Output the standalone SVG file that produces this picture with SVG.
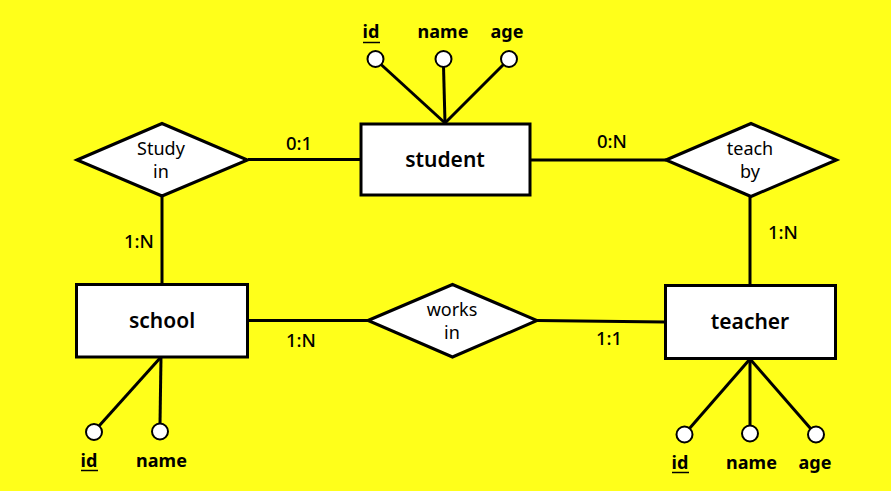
<svg xmlns="http://www.w3.org/2000/svg" width="891" height="491" viewBox="0 0 891 491">
<style>
.ent{fill:#fff;stroke:#000;stroke-width:3}
.rel{fill:#fff;stroke:#000;stroke-width:3}
.attr{fill:#fff;stroke:#000;stroke-width:2}
.ln{stroke:#000;stroke-width:3;fill:none}
text{font-family:"Noto Sans","Open Sans",sans-serif;fill:#000;text-anchor:middle}
.et{font-size:21px;font-weight:600}
.rt{font-size:18px;font-weight:400}
.at{font-size:18px;font-weight:700}
.ct{font-size:18.5px;font-weight:500}
.ul{stroke:#000;stroke-width:1.5}
</style>
<rect width="891" height="491" fill="#ffff1a"/>
<g id="connectors">
<line class="ln" x1="248" y1="159.5" x2="361" y2="159.5"/>
<line class="ln" x1="530" y1="160" x2="666" y2="160"/>
<line class="ln" x1="162" y1="196" x2="162" y2="284"/>
<line class="ln" x1="750" y1="197" x2="750" y2="285"/>
<line class="ln" x1="247" y1="320.5" x2="368" y2="320.5"/>
<line class="ln" x1="537" y1="320.5" x2="665" y2="322"/>
<line class="ln" x1="445" y1="123" x2="380.5" y2="64"/>
<line class="ln" x1="445" y1="123" x2="443.5" y2="66"/>
<line class="ln" x1="445" y1="123" x2="504" y2="64"/>
<line class="ln" x1="161" y1="357" x2="99" y2="426"/>
<line class="ln" x1="161" y1="357" x2="160" y2="424"/>
<line class="ln" x1="750" y1="359" x2="689" y2="429"/>
<line class="ln" x1="750" y1="359" x2="750" y2="426"/>
<line class="ln" x1="750" y1="359" x2="811" y2="429"/>
<text class="ct" x="299" y="150">0:1</text>
<text class="ct" x="612" y="148">0:N</text>
<text class="ct" x="139" y="248">1:N</text>
<text class="ct" x="783" y="239">1:N</text>
<text class="ct" x="301" y="347">1:N</text>
<text class="ct" x="609" y="345">1:1</text>
</g>
<g id="student">
<rect class="ent" x="361" y="124" width="169" height="71"/>
<text class="et" x="445" y="167">student</text>
</g>
<g id="student-id">
<circle class="attr" cx="375.5" cy="59" r="8"/>
<text class="at" x="371" y="38">id</text>
<line class="ul" x1="363" y1="42.5" x2="380" y2="42.5"/>
</g>
<g id="student-name">
<circle class="attr" cx="443.5" cy="59" r="8"/>
<text class="at" x="443" y="38">name</text>
</g>
<g id="student-age">
<circle class="attr" cx="509" cy="59" r="8"/>
<text class="at" x="507" y="38">age</text>
</g>
<g id="study-in">
<polygon class="rel" points="77,160 162,123.5 247.5,160 162,196"/>
<text class="rt" x="161" y="155">Study</text>
<text class="rt" x="161" y="178">in</text>
</g>
<g id="teach-by">
<polygon class="rel" points="666,160 751,123.5 836.5,160 751,196.5"/>
<text class="rt" x="750" y="155">teach</text>
<text class="rt" x="750" y="178">by</text>
</g>
<g id="school">
<rect class="ent" x="76.5" y="284.5" width="171" height="72.5"/>
<text class="et" x="162" y="328">school</text>
</g>
<g id="school-id">
<circle class="attr" cx="94" cy="432" r="8"/>
<text class="at" x="89" y="467">id</text>
<line class="ul" x1="81" y1="470.5" x2="98" y2="470.5"/>
</g>
<g id="school-name">
<circle class="attr" cx="160" cy="431.5" r="8"/>
<text class="at" x="161.5" y="467">name</text>
</g>
<g id="works-in">
<polygon class="rel" points="368,320.5 452.5,284.5 537,320.5 452.5,357"/>
<text class="rt" x="452" y="316">works</text>
<text class="rt" x="452" y="339">in</text>
</g>
<g id="teacher">
<rect class="ent" x="665.5" y="285.5" width="170" height="73"/>
<text class="et" x="750" y="329">teacher</text>
</g>
<g id="teacher-id">
<circle class="attr" cx="684.5" cy="434.5" r="8"/>
<text class="at" x="680" y="469">id</text>
<line class="ul" x1="672" y1="472.5" x2="689" y2="472.5"/>
</g>
<g id="teacher-name">
<circle class="attr" cx="750" cy="433.5" r="8"/>
<text class="at" x="751.5" y="469">name</text>
</g>
<g id="teacher-age">
<circle class="attr" cx="816" cy="434.5" r="8"/>
<text class="at" x="815" y="469">age</text>
</g>
</svg>
